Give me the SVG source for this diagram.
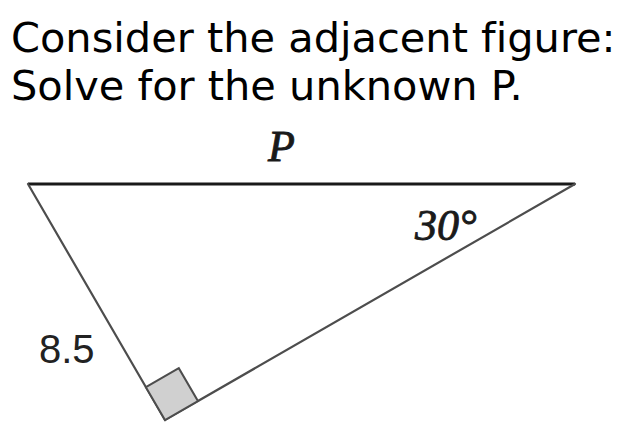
<svg xmlns="http://www.w3.org/2000/svg" width="622" height="437" viewBox="0 0 622 437">
<style>
.title{font-family:"DejaVu Sans",sans-serif;font-size:41.5px;fill:#000;font-variant-ligatures:none}
.lbl{font-family:"Liberation Serif",serif;font-style:italic;font-size:44px;fill:#1a1a1a;stroke:#1a1a1a;stroke-width:0.9}
.num{font-family:"Liberation Sans",Arial,sans-serif;font-size:40px;fill:#222}
.leg{stroke:#4d4d4d;stroke-width:2.2;fill:none;stroke-linecap:round}
</style>
<rect width="622" height="437" fill="#fff"/>
<g id="title">
<text class="title" x="11" y="52">Consider the adjacent figure:</text>
<text class="title" x="11" y="100">Solve for the unknown P.</text>
</g>
<g id="connectors">
<line x1="28" y1="184" x2="575" y2="184" stroke="#1a1a1a" stroke-width="3"/>
<line class="leg" x1="28" y1="184" x2="165" y2="420"/>
<line class="leg" x1="165" y1="420" x2="575" y2="184"/>
</g>
<g id="right-angle">
<polygon points="165,420 145.9,387.2 178.8,368.2 197.9,401" fill="#d0d0d0" stroke="#4d4d4d" stroke-width="2"/>
</g>
<g id="label-P"><text class="lbl" x="268" y="161">P</text></g>
<g id="label-angle"><text class="lbl" x="415" y="240">30°</text></g>
<g id="label-side"><text class="num" x="39" y="363">8.5</text></g>
</svg>
